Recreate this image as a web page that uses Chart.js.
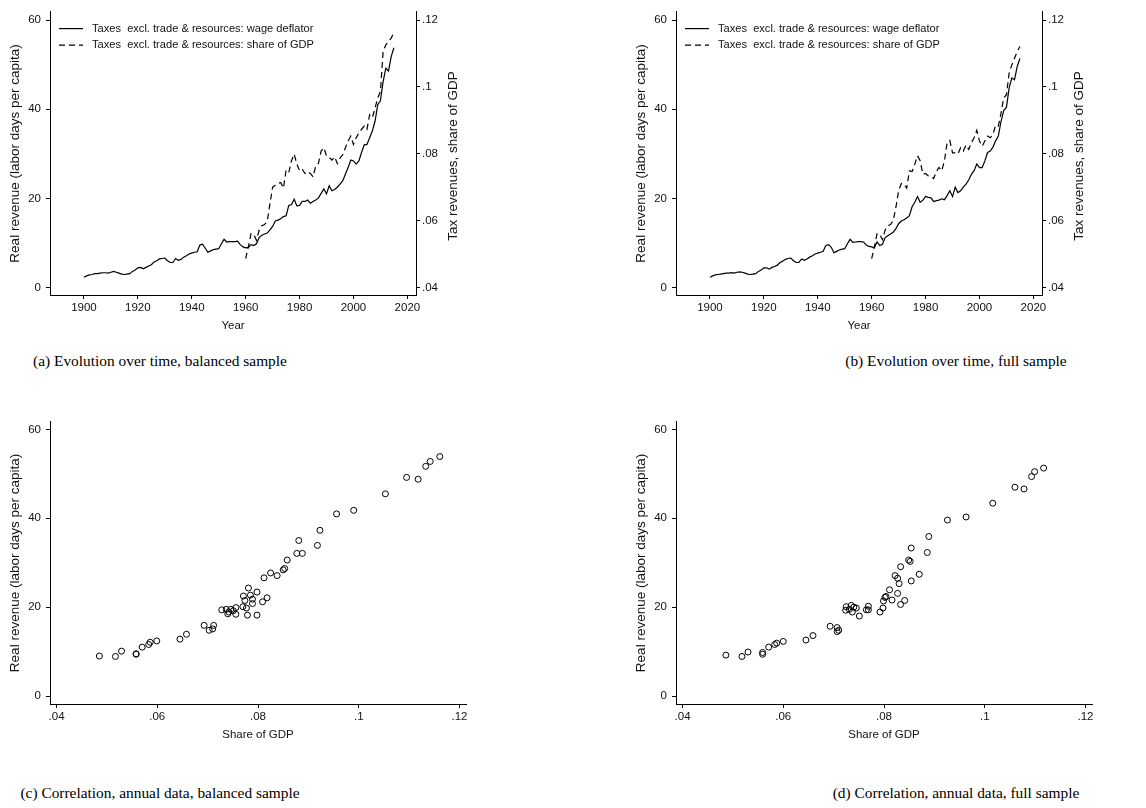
<!DOCTYPE html>
<html>
<head>
<meta charset="utf-8">
<script src="https://cdn.jsdelivr.net/npm/chart.js@4.4.1/dist/chart.umd.min.js"></script>
<style>
  body { margin: 0; background: #fff; width: 1146px; height: 808px; position: relative; overflow: hidden; }
  .panel { position: absolute; }
  .cap { position: absolute; width: 400px; text-align: center; line-height: 20px;
         font-family: "Liberation Serif", "Times New Roman", serif; font-size: 15.4px; color: #000; }
</style>
</head>
<body>
<div class="panel" style="left:0;top:0"><canvas id="chartA" width="480" height="345"></canvas></div>
<div class="panel" style="left:626px;top:0"><canvas id="chartB" width="480" height="345"></canvas></div>
<div class="panel" style="left:0;top:410px"><canvas id="chartC" width="480" height="345"></canvas></div>
<div class="panel" style="left:626px;top:410px"><canvas id="chartD" width="480" height="345"></canvas></div>
<div class="cap" style="left:-40px;top:351px">(a) Evolution over time, balanced sample</div>
<div class="cap" style="left:756px;top:351px">(b) Evolution over time, full sample</div>
<div class="cap" style="left:-40px;top:783px">(c) Correlation, annual data, balanced sample</div>
<div class="cap" style="left:756px;top:783px">(d) Correlation, annual data, full sample</div>
<script>
// real revenue, labor days per capita, yearly from 1900
const firstYear = 1900;
const wageA = [
  2.3, 2.6, 2.8, 2.9, 3.1, 3.1, 3.2, 3.3, 3.3, 3.2,
  3.4, 3.6, 3.4, 3.2, 3.0, 2.9, 3.0, 3.1, 3.6, 3.9,
  4.4, 4.5, 4.2, 4.5, 4.8, 5.1, 5.7, 6.0, 6.4, 6.5,
  6.6, 6.0, 5.6, 5.6, 6.5, 6.1, 6.3, 6.8, 7.1, 7.5,
  7.7, 7.9, 8.0, 9.5, 9.7, 8.8, 7.9, 8.2, 8.5, 8.6,
  8.7, 9.8, 10.8, 10.2, 10.3, 10.3, 10.3, 10.4, 9.6, 9.1,
  8.9, 9.0, 9.6, 9.4, 9.8, 11.2, 11.7, 12.0, 12.2, 12.9,
  13.7, 14.9, 15.1, 15.4, 15.9, 16.1, 18.4, 18.6, 19.8, 18.3,
  18.4, 19.3, 19.3, 19.6, 18.9, 19.3, 19.6, 20.1, 21.1, 22.1,
  21.0, 22.8, 21.7, 22.0, 22.5, 23.2, 23.9, 25.4, 26.9, 28.6,
  28.4, 27.7, 28.4, 30.3, 32.0, 32.1, 33.6, 35.1, 37.3, 41.0,
  41.9, 46.2, 49.2, 48.6, 51.8, 53.8
];
const wageB = [
  2.3, 2.6, 2.8, 2.9, 3.0, 3.1, 3.2, 3.2, 3.3, 3.2,
  3.4, 3.5, 3.4, 3.2, 3.0, 2.9, 3.0, 3.1, 3.6, 3.9,
  4.4, 4.4, 4.1, 4.5, 4.7, 5.0, 5.6, 5.9, 6.3, 6.5,
  6.6, 6.0, 5.6, 5.6, 6.4, 6.1, 6.4, 6.8, 7.1, 7.5,
  7.7, 7.9, 8.1, 9.4, 9.6, 9.0, 7.8, 8.1, 8.4, 8.6,
  8.7, 9.8, 10.8, 10.1, 10.2, 10.3, 10.3, 10.2, 9.5, 9.2,
  9.1, 8.9, 10.2, 9.4, 9.7, 11.2, 11.6, 12.0, 12.4, 13.2,
  14.3, 14.9, 15.2, 15.6, 16.1, 18.1, 19.1, 20.4, 19.1, 19.6,
  20.4, 20.2, 20.1, 19.3, 19.5, 19.6, 19.9, 19.7, 20.6, 21.7,
  20.4, 22.5, 21.3, 21.7, 22.5, 23.2, 24.1, 25.4, 26.2, 27.7,
  26.9, 26.9, 28.4, 30.3, 30.6, 31.5, 32.9, 34.0, 37.3, 39.7,
  40.4, 44.8, 47.0, 46.6, 49.6, 51.4
];

// tax revenues as share of GDP, yearly from 1960
const firstShareYear = 1960;
const shareA = [
  .0486, .0522, .0561, .0559, .0541, .0571, .0585, .0588, .0598, .0650,
  .0700, .0706, .0711, .0714, .0697, .0751, .0744, .0779, .0799, .0769,
  .0749, .0754, .0741, .0747, .0741, .0731, .0764, .0771, .0808, .0818,
  .0794, .0789, .0781, .0791, .0771, .0787, .0797, .0818, .0838, .0853,
  .0828, .0848, .0862, .0873, .0883, .0873, .0917, .0908, .0937, .0967,
  .0987, .1106, .1126, .1136, .1146, .1163
];
const shareB = [
  .0486, .0521, .0561, .0559, .0543, .0572, .0585, .0588, .0600, .0640,
  .0689, .0711, .0709, .0697, .0749, .0747, .0769, .0794, .0779, .0739,
  .0741, .0734, .0732, .0726, .0747, .0759, .0749, .0779, .0833, .0840,
  .0803, .0803, .0799, .0818, .0808, .0826, .0813, .0833, .0848, .0870,
  .0838, .0823, .0838, .0853, .0848, .0858, .0886, .0883, .0922, .0967,
  .0977, .1041, .1066, .1086, .1106, .1121
];

// scatter: share of GDP vs real revenue
const gdpShareC = [
  .0485, .0517, .0529, .0558, .0558, .0570, .0583, .0586, .0599, .0645,
  .0658, .0693, .0703, .0710, .0712, .0728, .0737, .0740, .0742, .0746,
  .0751, .0756, .0756, .0770, .0771, .0774, .0777, .0779, .0781, .0785,
  .0789, .0789, .0798, .0798, .0809, .0818, .0812, .0825, .0838, .0850,
  .0853, .0858, .0877, .0888, .0881, .0918, .0923, .0956, .0990, .1053,
  .1095, .1118, .1133, .1142, .1161
];
const revenueC = [
  9.0, 8.9, 10.1, 9.5, 9.4, 11.0, 11.6, 12.1, 12.4, 12.8,
  13.9, 15.9, 14.8, 15.1, 15.9, 19.4, 19.5, 18.5, 18.9, 19.5,
  19.2, 18.4, 19.9, 20.1, 22.5, 21.5, 19.8, 18.2, 24.3, 22.7,
  21.8, 20.8, 23.4, 18.2, 21.2, 22.1, 26.6, 27.7, 27.1, 28.4,
  28.7, 30.6, 32.1, 32.1, 35.0, 33.9, 37.3, 41.0, 41.8, 45.5,
  49.2, 48.8, 51.7, 52.8, 53.9
];
const gdpShareD = [
  .0486, .0518, .0530, .0559, .0559, .0571, .0583, .0587, .0600, .0645,
  .0659, .0693, .0707, .0707, .0710, .0725, .0724, .0731, .0735, .0737,
  .0740, .0745, .0751, .0765, .0769, .0769, .0792, .0798, .0799, .0802,
  .0804, .0811, .0816, .0822, .0827, .0827, .0830, .0833, .0833, .0841,
  .0849, .0852, .0854, .0854, .0870, .0886, .0889, .0926, .0963, .1016,
  .1060, .1078, .1093, .1099, .1117
];
const revenueD = [
  9.2, 8.9, 9.9, 9.8, 9.4, 11.0, 11.6, 11.9, 12.3, 12.6,
  13.6, 15.7, 15.4, 14.5, 14.8, 20.1, 19.3, 19.5, 20.4, 18.9,
  20.0, 19.8, 18.0, 19.4, 20.2, 19.4, 18.9, 19.8, 21.4, 22.2,
  22.4, 23.9, 21.6, 27.1, 26.5, 23.1, 25.3, 20.6, 29.1, 21.5,
  30.6, 30.3, 25.9, 33.3, 27.4, 32.3, 35.9, 39.6, 40.3, 43.4,
  47.0, 46.6, 49.4, 50.5, 51.3
];

const yearTicks = [1900, 1920, 1940, 1960, 1980, 2000, 2020];
const revenueTicks = [0, 20, 40, 60];
const shareTicks = [.04, .06, .08, .1, .12];
const legendLabels = [
  'Taxes  excl. trade & resources: wage deflator',
  'Taxes  excl. trade & resources: share of GDP'
];

const FONT = '"Liberation Sans", Arial, Helvetica, sans-serif';
Chart.defaults.font.family = FONT;
Chart.defaults.font.size = 11.5;
Chart.defaults.color = '#111';
Chart.defaults.animation = false;

const revMin = -1.7, revMax = 61.85;
const toShare = v => .04 + v * (.08 / 60);
const dotLabel = v => String(v).replace(/^0\./, '.');

// legend inside the plot and right-hand axis title (reads bottom to top)
const overlay = {
  id: 'overlay',
  afterDraw(chart, args, opts) {
    const ctx = chart.ctx, area = chart.chartArea;
    if (opts.legend) {
      ctx.save();
      ctx.font = '11.1px ' + FONT;
      ctx.fillStyle = '#111';
      ctx.textBaseline = 'middle';
      chart.data.datasets.forEach((ds, i) => {
        const y = area.top + 16.7 + i * 16.6;
        ctx.strokeStyle = ds.borderColor;
        ctx.lineWidth = ds.borderWidth;
        ctx.setLineDash(ds.borderDash || []);
        ctx.beginPath();
        ctx.moveTo(area.left + 9, y);
        ctx.lineTo(area.left + 33, y);
        ctx.stroke();
        ctx.fillText(ds.label, area.left + 42, y);
      });
      ctx.restore();
    }
    if (opts.rightTitle) {
      ctx.save();
      ctx.translate(area.right + 37, (area.top + area.bottom) / 2 + 2.5);
      ctx.rotate(-Math.PI / 2);
      ctx.textAlign = 'center';
      ctx.textBaseline = 'middle';
      ctx.font = '13.5px ' + FONT;
      ctx.fillStyle = '#111';
      ctx.fillText(opts.rightTitle, 0, 0);
      ctx.restore();
    }
  }
};

function axisStyle(tickValues, fmt, padding) {
  return {
    afterBuildTicks: s => { s.ticks = tickValues.map(v => ({ value: v })); },
    grid: { drawOnChartArea: false, drawTicks: true, tickLength: 4, color: '#000', lineWidth: 1 },
    border: { display: true, color: '#000', width: 1 },
    ticks: { padding: padding, color: '#111', autoSkip: false, maxRotation: 0, callback: fmt }
  };
}

const yTitle = {
  display: true, text: 'Real revenue (labor days per capita)',
  font: { size: 13.5 }, padding: { top: 7, bottom: 0 }
};

function makeLineChart(id, wage, share) {
  const wagePoints = wage.map((v, i) => ({ x: firstYear + i, y: v }));
  const sharePoints = share.map((v, i) => ({ x: firstShareYear + i, y: v }));
  new Chart(document.getElementById(id), {
    type: 'line',
    data: {
      datasets: [
        { label: legendLabels[0], data: wagePoints, yAxisID: 'y', borderColor: '#000',
          borderWidth: 1.2, pointRadius: 0, tension: 0 },
        { label: legendLabels[1], data: sharePoints, yAxisID: 'y2', borderColor: '#000',
          borderWidth: 1.2, borderDash: [6, 4], pointRadius: 0, tension: 0 }
      ]
    },
    options: {
      responsive: false,
      devicePixelRatio: 1,
      layout: { padding: { top: 10, right: 0, bottom: 0, left: 0 } },
      plugins: { legend: { display: false }, tooltip: { enabled: false },
                 overlay: { legend: true, rightTitle: 'Tax revenues, share of GDP' } },
      scales: {
        x: Object.assign(axisStyle(yearTicks, v => String(v), 2), {
          type: 'linear', min: 1887.4, max: 2023.2,
          afterFit: s => { s.height = 50; },
          title: { display: true, text: 'Year', padding: { top: 0, bottom: 12 } }
        }),
        y: Object.assign(axisStyle(revenueTicks, v => String(v), 5), {
          position: 'left', min: revMin, max: revMax,
          afterFit: s => { s.width = 50; },
          title: yTitle
        }),
        y2: Object.assign(axisStyle(shareTicks, dotLabel, 2), {
          position: 'right', min: toShare(revMin), max: toShare(revMax),
          afterFit: s => { s.width = 64; }
        })
      }
    },
    plugins: [overlay]
  });
}

function makeScatter(id, xs, ys) {
  new Chart(document.getElementById(id), {
    type: 'scatter',
    data: {
      datasets: [{ data: xs.map((x, i) => ({ x: x, y: ys[i] })),
        pointStyle: 'circle', pointRadius: 3, borderColor: '#000', borderWidth: 1,
        backgroundColor: 'rgba(0,0,0,0)' }]
    },
    options: {
      responsive: false,
      devicePixelRatio: 1,
      layout: { padding: { top: 10, right: 14, bottom: 0, left: 0 } },
      plugins: { legend: { display: false }, tooltip: { enabled: false } },
      scales: {
        x: Object.assign(axisStyle(shareTicks, dotLabel, 2), {
          type: 'linear', min: .0387, max: .1213,
          afterFit: s => { s.height = 51; },
          title: { display: true, text: 'Share of GDP', padding: { top: 0, bottom: 13 } }
        }),
        y: Object.assign(axisStyle(revenueTicks, v => String(v), 5), {
          min: -1.8, max: 61.7,
          afterFit: s => { s.width = 50; },
          title: yTitle
        })
      }
    }
  });
}

makeLineChart('chartA', wageA, shareA);
makeLineChart('chartB', wageB, shareB);
makeScatter('chartC', gdpShareC, revenueC);
makeScatter('chartD', gdpShareD, revenueD);
</script>
</body>
</html>
